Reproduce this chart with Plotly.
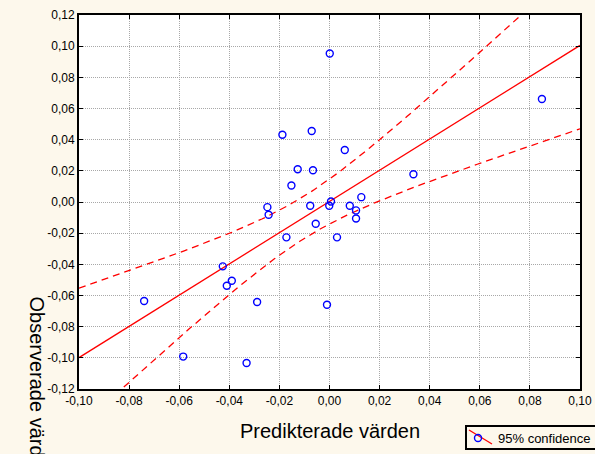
import numpy as np
import plotly.graph_objects as go

# ---- data ----
pred = [-0.0188, -0.0071, 0.0061, -0.0127, -0.0066, -0.0152, -0.0248, -0.0243,
        -0.0077, 0.0006, -0.0001, 0.0127, 0.0081, 0.0106, 0.0106, -0.0055,
        -0.0172, 0.0030, 0.0001, 0.0848, 0.0335, -0.0426, -0.0390, -0.0410,
        -0.0740, -0.0289, -0.0010, -0.0584, -0.0331]
obs = [0.0432, 0.0456, 0.0334, 0.0210, 0.0204, 0.0106, -0.0033, -0.0082,
       -0.0024, 0.0003, -0.0024, 0.0031, -0.0024, -0.0054, -0.0106, -0.0140,
       -0.0227, -0.0227, 0.0953, 0.0661, 0.0178, -0.0413, -0.0505, -0.0537,
       -0.0635, -0.0642, -0.0659, -0.0992, -0.1033]

x_tickvals = [-0.10, -0.08, -0.06, -0.04, -0.02, 0.00, 0.02, 0.04, 0.06, 0.08, 0.10]
x_ticktext = ["-0,10", "-0,08", "-0,06", "-0,04", "-0,02", "0,00", "0,02", "0,04", "0,06", "0,08", "0,10"]
y_tickvals = [-0.12, -0.10, -0.08, -0.06, -0.04, -0.02, 0.00, 0.02, 0.04, 0.06, 0.08, 0.10, 0.12]
y_ticktext = ["-0,12", "-0,10", "-0,08", "-0,06", "-0,04", "-0,02", "0,00", "0,02", "0,04", "0,06", "0,08", "0,10", "0,12"]

x_title = "Predikterade värden"
y_title = "Observerade värden"
legend_name = "95% confidence"
T975 = 2.052  # t quantile, df = n - 2 = 27

# ---- regression with 95% confidence band (computed from the data) ----
x = np.array(pred)
y = np.array(obs)
n = len(x)
b, a = np.polyfit(x, y, 1)
s = np.sqrt(np.sum((y - (a + b * x)) ** 2) / (n - 2))
sxx = np.sum((x - x.mean()) ** 2)
xs = np.linspace(x_tickvals[0], x_tickvals[-1], 201)
fit = a + b * xs
half = T975 * s * np.sqrt(1.0 / n + (xs - x.mean()) ** 2 / sxx)

RED = "#FF0000"
BLUE = "#0000FF"
BG = "#FDF8EC"
FONT = "Arial, 'Liberation Sans', sans-serif"

# plot area in pixels: left 79, right 580, top 15, bottom 389
def px_x(p):
    return (p - 79) / 501.0

def px_y(p):
    return (389 - p) / 374.0

fig = go.Figure()
fig.add_trace(go.Scatter(x=xs, y=fit + half, mode="lines", showlegend=False,
                         line=dict(color=RED, width=1.3, dash="7px,5px"), hoverinfo="skip"))
fig.add_trace(go.Scatter(x=xs, y=fit - half, mode="lines", showlegend=False,
                         line=dict(color=RED, width=1.3, dash="7px,5px"), hoverinfo="skip"))
fig.add_trace(go.Scatter(x=xs, y=fit, mode="lines", showlegend=False,
                         line=dict(color=RED, width=1.3), hoverinfo="skip"))
fig.add_trace(go.Scatter(x=pred, y=obs, mode="markers", name=legend_name,
                         marker=dict(symbol="circle-open", size=7, color=BLUE,
                                     line=dict(width=1.4, color=BLUE))))

axis_common = dict(showline=True, linecolor="black", linewidth=2, mirror="ticks",
                   ticks="inside", ticklen=4, tickwidth=1, tickcolor="black",
                   showgrid=True, gridcolor="#A8A8A8", gridwidth=1, griddash="1px,1px",
                   zeroline=False, tickfont=dict(size=12, color="black", family=FONT))

fig.update_layout(
    width=595, height=454,
    margin=dict(l=79, r=15, t=15, b=65, autoexpand=False),
    paper_bgcolor=BG, plot_bgcolor="white",
    font=dict(family=FONT, color="black", size=12),
    xaxis=dict(range=[-0.10, 0.10], tickmode="array", tickvals=x_tickvals,
               ticktext=x_ticktext, **axis_common),
    yaxis=dict(range=[-0.12, 0.12], tickmode="array", tickvals=y_tickvals,
               ticktext=y_ticktext, **axis_common),
    showlegend=True,
    legend=dict(x=px_x(458), xanchor="left", y=px_y(423), yanchor="top",
                bgcolor="rgba(0,0,0,0)", borderwidth=0,
                font=dict(size=13, family=FONT, color="black")),
    annotations=[
        dict(text=x_title, xref="paper", yref="paper", x=0.5, y=px_y(431),
             xanchor="center", yanchor="middle", showarrow=False,
             font=dict(size=20, family=FONT, color="black")),
        dict(text=y_title, xref="paper", yref="paper", x=px_x(36.5), y=px_y(294),
             xanchor="center", yanchor="top", textangle=90, showarrow=False,
             font=dict(size=20, family=FONT, color="black")),
    ],
    shapes=[
        dict(type="rect", xref="paper", yref="paper", layer="above",
             x0=px_x(466), y0=px_y(426), x1=px_x(610), y1=px_y(449),
             line=dict(color="black", width=2), fillcolor="rgba(0,0,0,0)"),
        dict(type="line", xref="paper", yref="paper", layer="above",
             x0=px_x(469), y0=px_y(430), x1=px_x(492), y1=px_y(444),
             line=dict(color=RED, width=1.3)),
    ],
)

fig.write_html("out.html", config={"displayModeBar": False},
               post_script="document.body.style.margin='0';document.body.style.overflow='hidden';")
